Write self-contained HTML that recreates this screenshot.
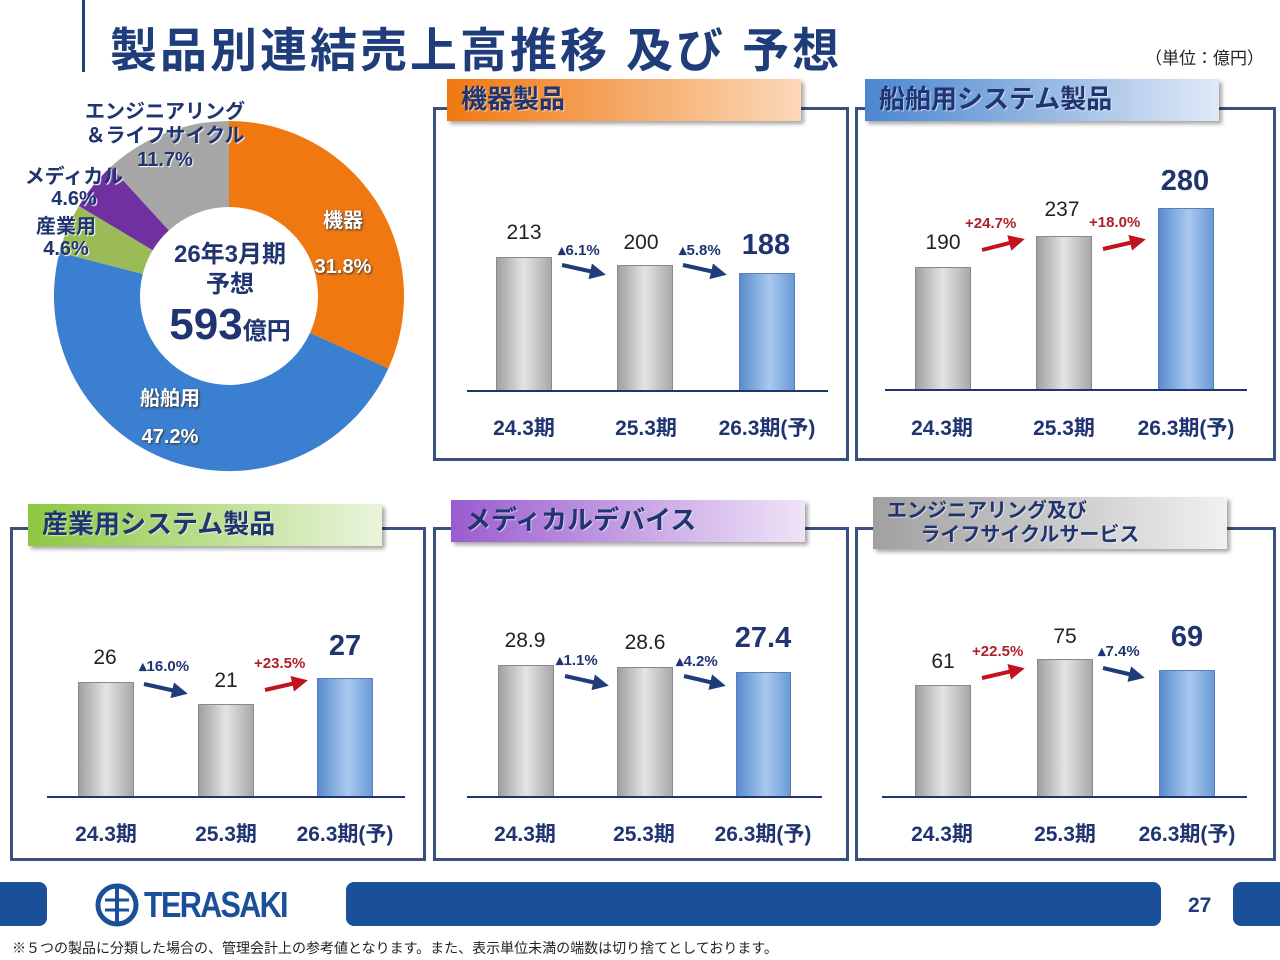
<!DOCTYPE html>
<html><head><meta charset="utf-8"><style>
body{margin:0;width:1280px;height:960px;background:#fff;position:relative;overflow:hidden;font-family:"Liberation Sans","Noto Sans CJK JP",sans-serif;color:#1f3470}
div,span{position:absolute}
.box{border:3px solid #3a5080;box-sizing:border-box}
.tab{height:42px;box-shadow:3px 3px 4px rgba(0,0,0,.35);font-weight:bold;font-size:26px;line-height:40px;padding-left:14px;box-sizing:border-box;color:#1f3470;text-shadow:1px 1px 1px rgba(255,255,255,.6)}
.ax{height:2px;background:#1f3470}
.g{background:linear-gradient(90deg,#a0a0a0,#e4e4e4 50%,#a8a8a8);border:1px solid #8a8a8a;box-sizing:border-box}
.b{background:linear-gradient(90deg,#5a8ccd,#a9c9ef 55%,#6a9ad6);border:1px solid #5a7fb8;box-sizing:border-box}
.lb{font-weight:bold;font-size:21px;width:140px;text-align:center}
.v{font-size:21px;width:80px;text-align:center;color:#222}
.vb{font-size:29px;font-weight:bold;width:100px;text-align:center;color:#1f3470}
.p{font-size:15px;font-weight:bold;white-space:nowrap}
.pb{color:#1f3470}.pr{color:#b01e2a}
</style></head><body>
<div style="left:82px;top:0;width:3px;height:72px;background:#1f3d7a"></div>
<div style="left:110px;top:12px;font-size:47px;font-weight:bold;color:#1f3d7a;white-space:nowrap;letter-spacing:3px">製品別連結売上高推移 及び 予想</div>
<div style="left:1145px;top:44px;font-size:17px;color:#222">（単位：億円）</div>

<svg style="position:absolute;left:0;top:0" width="430" height="480">
<path d="M229 121 A175 175 0 0 1 388.3 368.5 L310 332.9 A89 89 0 0 0 229 207Z" fill="#f07810"/>
<path d="M388.3 368.5 A175 175 0 0 1 59.5 252.5 L142.8 273.9 A89 89 0 0 0 310 332.9Z" fill="#3a7fd0"/>
<path d="M59.5 252.5 A175 175 0 0 1 78.9 206 L152.7 250.2 A89 89 0 0 0 142.8 273.9Z" fill="#9bbb59"/>
<path d="M78.9 206 A175 175 0 0 1 110.8 166.9 L168.9 230.4 A89 89 0 0 0 152.7 250.2Z" fill="#7030a0"/>
<path d="M110.8 166.9 A175 175 0 0 1 229 121 L229 207 A89 89 0 0 0 168.9 230.4Z" fill="#a6a6a6"/>
</svg>
<div style="left:80px;top:100px;width:170px;text-align:center;font-size:20px;font-weight:bold;line-height:24px;text-shadow:1px 1px 1px #fff">エンジニアリング<br>＆ライフサイクル<br>11.7%</div>
<div style="left:24px;top:166px;width:100px;text-align:center;font-size:20px;font-weight:bold;line-height:22px;text-shadow:1px 1px 1px #fff">メディカル<br>4.6%</div>
<div style="left:26px;top:216px;width:80px;text-align:center;font-size:20px;font-weight:bold;line-height:22px;text-shadow:1px 1px 1px #fff">産業用<br>4.6%</div>
<div style="left:298px;top:198px;width:90px;text-align:center;font-size:20px;font-weight:bold;color:#fff;line-height:46px;text-shadow:1px 1px 2px #333">機器<br>31.8%</div>
<div style="left:120px;top:380px;width:100px;text-align:center;font-size:20px;font-weight:bold;color:#fff;line-height:38px;text-shadow:1px 1px 2px #333">船舶用<br>47.2%</div>
<div style="left:150px;top:240px;width:160px;text-align:center;font-size:24px;font-weight:bold;line-height:30px">26年3月期<br>予想</div>
<div style="left:140px;top:300px;width:180px;text-align:center;font-weight:bold;font-size:44px">593<span style="position:static;font-size:24px">億円</span></div>

<!-- panels -->
<div class="box" style="left:433px;top:107px;width:416px;height:354px"></div>
<div class="tab" style="left:447px;top:79px;width:354px;background:linear-gradient(90deg,#f07810,#fbd8b8)">機器製品</div>
<div class="box" style="left:855px;top:107px;width:421px;height:354px"></div>
<div class="tab" style="left:865px;top:79px;width:354px;background:linear-gradient(90deg,#4a86d0,#dfe9f6)">船舶用システム製品</div>
<div class="box" style="left:10px;top:527px;width:416px;height:334px"></div>
<div class="tab" style="left:28px;top:504px;width:354px;background:linear-gradient(90deg,#8cc840,#eaf4dc)">産業用システム製品</div>
<div class="box" style="left:433px;top:527px;width:416px;height:334px"></div>
<div class="tab" style="left:451px;top:500px;width:354px;background:linear-gradient(90deg,#9a5cd0,#f0e4f8)">メディカルデバイス</div>
<div class="box" style="left:855px;top:527px;width:421px;height:334px"></div>
<div class="tab" style="left:873px;top:497px;width:354px;height:52px;background:linear-gradient(90deg,#a0a0a0,#f0f0f0);font-size:20px;line-height:24px;padding-top:2px">エンジニアリング及び<br>&nbsp;&nbsp;&nbsp;&nbsp;&nbsp;&nbsp;ライフサイクルサービス</div>

<!-- P1 -->
<div class="g" style="left:496px;top:257px;width:56px;height:135px"></div>
<div class="g" style="left:617px;top:265px;width:56px;height:127px"></div>
<div class="b" style="left:739px;top:273px;width:56px;height:119px"></div>
<div class="ax" style="left:467px;top:390px;width:361px"></div>
<div class="v" style="left:484px;top:221px">213</div>
<div class="v" style="left:601px;top:231px">200</div>
<div class="vb" style="left:716px;top:229px">188</div>
<div class="p pb" style="left:558px;top:241px">▴6.1%</div>
<div class="p pb" style="left:679px;top:241px">▴5.8%</div>
<div class="lb" style="left:454px;top:412px">24.3期</div><div class="lb" style="left:576px;top:412px">25.3期</div><div class="lb" style="left:697px;top:412px">26.3期(予)</div>
<!-- P2 -->
<div class="g" style="left:915px;top:267px;width:56px;height:124px"></div>
<div class="g" style="left:1036px;top:236px;width:56px;height:155px"></div>
<div class="b" style="left:1158px;top:208px;width:56px;height:183px"></div>
<div class="ax" style="left:885px;top:389px;width:362px"></div>
<div class="v" style="left:903px;top:231px">190</div>
<div class="v" style="left:1022px;top:198px">237</div>
<div class="vb" style="left:1135px;top:165px">280</div>
<div class="p pr" style="left:965px;top:215px">+24.7%</div>
<div class="p pr" style="left:1089px;top:214px">+18.0%</div>
<div class="lb" style="left:872px;top:412px">24.3期</div><div class="lb" style="left:994px;top:412px">25.3期</div><div class="lb" style="left:1116px;top:412px">26.3期(予)</div>
<!-- P3 -->
<div class="g" style="left:78px;top:682px;width:56px;height:116px"></div>
<div class="g" style="left:198px;top:704px;width:56px;height:94px"></div>
<div class="b" style="left:317px;top:678px;width:56px;height:120px"></div>
<div class="ax" style="left:47px;top:796px;width:358px"></div>
<div class="v" style="left:65px;top:646px">26</div>
<div class="v" style="left:186px;top:669px">21</div>
<div class="vb" style="left:295px;top:630px">27</div>
<div class="p pb" style="left:139px;top:657px">▴16.0%</div>
<div class="p pr" style="left:254px;top:655px">+23.5%</div>
<div class="lb" style="left:36px;top:818px">24.3期</div><div class="lb" style="left:156px;top:818px">25.3期</div><div class="lb" style="left:275px;top:818px">26.3期(予)</div>
<!-- P4 -->
<div class="g" style="left:498px;top:665px;width:56px;height:133px"></div>
<div class="g" style="left:617px;top:667px;width:56px;height:131px"></div>
<div class="b" style="left:736px;top:672px;width:55px;height:126px"></div>
<div class="ax" style="left:467px;top:796px;width:355px"></div>
<div class="v" style="left:485px;top:629px">28.9</div>
<div class="v" style="left:605px;top:631px">28.6</div>
<div class="vb" style="left:713px;top:622px">27.4</div>
<div class="p pb" style="left:556px;top:651px">▴1.1%</div>
<div class="p pb" style="left:676px;top:652px">▴4.2%</div>
<div class="lb" style="left:455px;top:818px">24.3期</div><div class="lb" style="left:574px;top:818px">25.3期</div><div class="lb" style="left:693px;top:818px">26.3期(予)</div>
<!-- P5 -->
<div class="g" style="left:915px;top:685px;width:56px;height:113px"></div>
<div class="g" style="left:1037px;top:659px;width:56px;height:139px"></div>
<div class="b" style="left:1159px;top:670px;width:56px;height:128px"></div>
<div class="ax" style="left:882px;top:796px;width:365px"></div>
<div class="v" style="left:903px;top:650px">61</div>
<div class="v" style="left:1025px;top:625px">75</div>
<div class="vb" style="left:1137px;top:621px">69</div>
<div class="p pr" style="left:972px;top:643px">+22.5%</div>
<div class="p pb" style="left:1098px;top:642px">▴7.4%</div>
<div class="lb" style="left:872px;top:818px">24.3期</div><div class="lb" style="left:995px;top:818px">25.3期</div><div class="lb" style="left:1117px;top:818px">26.3期(予)</div>

<svg style="position:absolute;left:0;top:0" width="1280" height="960">
<defs>
<marker id="mb" markerWidth="4" markerHeight="4" refX="2" refY="2" orient="auto"><path d="M0 0L4 2L0 4Z" fill="#1f3d7a"/></marker>
<marker id="mr" markerWidth="4" markerHeight="4" refX="2" refY="2" orient="auto"><path d="M0 0L4 2L0 4Z" fill="#c0141e"/></marker>
</defs>
<g stroke-width="4" fill="none">
<line x1="562" y1="265" x2="598" y2="273" stroke="#1f3d7a" marker-end="url(#mb)"/>
<line x1="683" y1="265" x2="719" y2="273" stroke="#1f3d7a" marker-end="url(#mb)"/>
<line x1="982" y1="250" x2="1017" y2="241" stroke="#c0141e" marker-end="url(#mr)"/>
<line x1="1103" y1="249" x2="1138" y2="241" stroke="#c0141e" marker-end="url(#mr)"/>
<line x1="144" y1="684" x2="180" y2="692" stroke="#1f3d7a" marker-end="url(#mb)"/>
<line x1="265" y1="690" x2="300" y2="682" stroke="#c0141e" marker-end="url(#mr)"/>
<line x1="565" y1="676" x2="601" y2="684" stroke="#1f3d7a" marker-end="url(#mb)"/>
<line x1="684" y1="676" x2="718" y2="684" stroke="#1f3d7a" marker-end="url(#mb)"/>
<line x1="982" y1="678" x2="1017" y2="670" stroke="#c0141e" marker-end="url(#mr)"/>
<line x1="1103" y1="668" x2="1137" y2="676" stroke="#1f3d7a" marker-end="url(#mb)"/>
</g>
<circle cx="117" cy="905" r="19" fill="none" stroke="#1a4f9a" stroke-width="5"/>
<line x1="117" y1="886" x2="117" y2="924" stroke="#1a4f9a" stroke-width="4"/>
<line x1="105" y1="900" x2="129" y2="900" stroke="#1a4f9a" stroke-width="3"/>
<line x1="105" y1="910" x2="129" y2="910" stroke="#1a4f9a" stroke-width="3"/>
</svg>

<!-- footer -->
<div style="left:-10px;top:882px;width:57px;height:44px;background:#1a4f9a;border-radius:8px"></div>
<div style="left:144px;top:884px;font-size:36px;font-weight:bold;color:#1a4f9a;letter-spacing:-2px;transform:scaleX(.85);transform-origin:left">TERASAKI</div>
<div style="left:346px;top:882px;width:815px;height:44px;background:#1a4f9a;border-radius:8px"></div>
<div style="left:1188px;top:894px;font-size:21px;font-weight:bold;color:#1f3d7a">27</div>
<div style="left:1233px;top:882px;width:60px;height:44px;background:#1a4f9a;border-radius:8px"></div>
<div style="left:12px;top:938px;font-size:14px;color:#222;white-space:nowrap">※５つの製品に分類した場合の、管理会計上の参考値となります。また、表示単位未満の端数は切り捨てとしております。</div>
</body></html>
